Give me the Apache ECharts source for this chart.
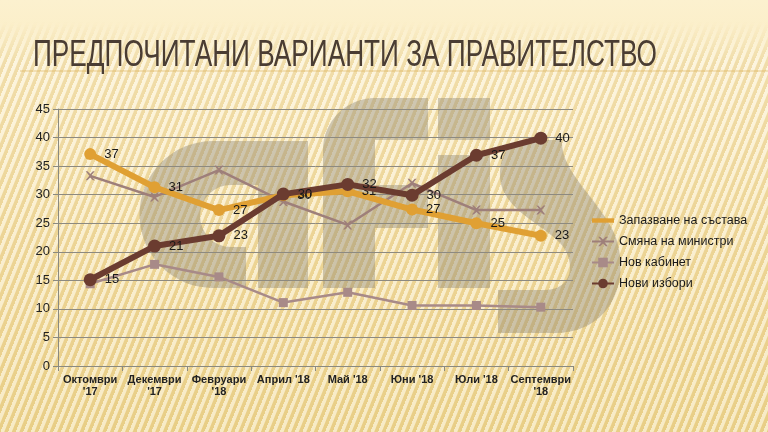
<!DOCTYPE html>
<html><head><meta charset="utf-8">
<script src="https://cdn.jsdelivr.net/npm/echarts@6/dist/echarts.min.js"></script>
<style>
html,body{margin:0;padding:0;}
body{width:768px;height:432px;overflow:hidden;position:relative;
background:linear-gradient(180deg,#fcf1cf 0%,#faebbf 20%,#f6e2aa 55%,#f1da97 100%);}
#stripes{position:absolute;left:0;top:22px;width:768px;height:410px;
background:repeating-linear-gradient(112deg, rgba(255,255,255,0.45) 0px, rgba(255,255,255,0.45) 3px, rgba(200,160,70,0.20) 4px, rgba(200,160,70,0.20) 7px);
-webkit-mask-image:linear-gradient(180deg,rgba(0,0,0,0) 0px,rgba(0,0,0,1) 40px);}
#logo{position:absolute;left:0;top:0;width:768px;height:432px;}
#c{position:absolute;left:0;top:0;width:768px;height:432px;}
</style></head><body>
<div id="stripes"></div>
<svg id="logo" width="768" height="432" viewBox="0 0 768 432">
 <g fill="#8a8270" fill-opacity="0.4">
  <path d="M213,141 H308 V288 H258 V185 H231 A31,31 0 0 0 231,247 H246 V288 H213 A73.5,73.5 0 0 1 213,141 Z"/>
  <path d="M323,288 V150 A52,52 0 0 1 375,98 H428 V140 H375 V185 H428 V228 H375 V288 Z"/>
  <rect x="438" y="98" width="52" height="42"/>
  <rect x="438" y="155" width="52" height="133"/>
  <path d="M528,140 H562 C560,172 600,200 615,235 C632,282 610,333 555,333 H498 V290 H545 C574,290 576,260 560,243 C540,222 498,208 500,172 C501,150 512,140 528,140 Z"/>
 </g>
</svg>
<div id="c"></div>
<script>
const categories = ["Октомври\n'17","Декември\n'17","Февруари\n'18","Април '18","Май '18","Юни '18","Юли '18","Септември\n'18"];
const seriesNames = ["Запазване на състава","Смяна на министри","Нов кабинет","Нови избори"];
const zapazvane = [37.1, 31.3, 27.3, 29.9, 30.6, 27.4, 25.0, 22.8];
const smyana = [33.3, 29.6, 34.3, 28.8, 24.7, 32.0, 27.3, 27.3];
const novKabinet = [14.4, 17.8, 15.6, 11.1, 12.9, 10.6, 10.6, 10.3];
const noviIzbori = [15.1, 21.0, 22.8, 30.1, 31.8, 29.9, 36.9, 39.9];
const zapLabels = ["37","31","27","30","31","27","25","23"];
const izbLabels = ["15","21","23","30","32","30","37","40"];
const yTicks = [0,5,10,15,20,25,30,35,40,45];
const titleText = 'ПРЕДПОЧИТАНИ ВАРИАНТИ ЗА ПРАВИТЕЛСТВО';

const titleFont = '37px "Liberation Sans", Arial';
const mc = document.createElement('canvas').getContext('2d');
mc.font = titleFont;
const tw = mc.measureText(titleText).width;
const sx = 624 / tw;

const xPath = 'path://M0,0 L2,0 L5,3 L8,0 L10,0 L6,5 L10,10 L8,10 L5,7 L2,10 L0,10 L4,5 Z';
const linePath = 'path://M0,0 H30 V6 H0 Z';
const chart = echarts.init(document.getElementById('c'), null, {renderer:'canvas'});
const lbl = (arr)=>({show:true, position:'right', distance:8, color:'#1a1a1a', fontSize:13, fontFamily:'Liberation Sans, Arial', formatter:p=>arr[p.dataIndex]});
chart.setOption({
  backgroundColor:'transparent',
  animation:false,
  graphic:[
    {type:'line', shape:{x1:20,y1:71,x2:768,y2:71}, style:{stroke:'rgba(215,170,70,0.55)', lineWidth:1}},
    {type:'text', x:33, y:37, scaleX:sx, style:{text:titleText, font:titleFont, fill:'#4a3d33'}}
  ],
  grid:{left:58, right:195, top:109, bottom:66, containLabel:false},
  legend:{
    orient:'vertical', left:586, top:209, itemWidth:22, itemHeight:12, itemGap:8,
    textStyle:{color:'#1a1a1a', fontSize:12.5, fontFamily:'Liberation Sans, Arial'},
    data:[{name:seriesNames[0], icon:linePath, itemStyle:{color:'#e0a033'}}, seriesNames[1], seriesNames[2], seriesNames[3]]
  },
  xAxis:{type:'category', data:categories, boundaryGap:true,
    axisLine:{lineStyle:{color:'#8a8a80'}}, axisTick:{show:true, lineStyle:{color:'#8a8a80'}},
    axisLabel:{color:'#222', fontSize:11, fontWeight:'bold', fontFamily:'Liberation Sans, Arial', interval:0, lineHeight:12, margin:8}},
  yAxis:{type:'value', min:0, max:45, interval:5,
    axisLine:{show:true, lineStyle:{color:'#8a8a80'}}, axisTick:{show:true, lineStyle:{color:'#8a8a80'}},
    splitLine:{lineStyle:{color:'#8d8a80', width:1}},
    axisLabel:{color:'#222', fontSize:13, fontFamily:'Liberation Sans, Arial', formatter:v=>yTicks.includes(v)?String(v):''}},
  series:[
    {name:seriesNames[0], type:'line', data:zapazvane, z:3, symbol:'circle', symbolSize:12,
     lineStyle:{color:'#e0a033', width:6}, itemStyle:{color:'#e0a033'}, label:lbl(zapLabels)},
    {name:seriesNames[1], type:'line', data:smyana, z:2, symbol:xPath, symbolSize:9,
     lineStyle:{color:'#9e7f7a', width:2.5}, itemStyle:{color:'#9e7f7a'}},
    {name:seriesNames[2], type:'line', data:novKabinet, z:2, symbol:'rect', symbolSize:9,
     lineStyle:{color:'#a88a88', width:2.5}, itemStyle:{color:'#a88a88'}},
    {name:seriesNames[3], type:'line', data:noviIzbori, z:4, symbol:'circle', symbolSize:13,
     lineStyle:{color:'#6b3c30', width:6}, itemStyle:{color:'#6b3c30'}, label:lbl(izbLabels)}
  ]
});
</script></body></html>
